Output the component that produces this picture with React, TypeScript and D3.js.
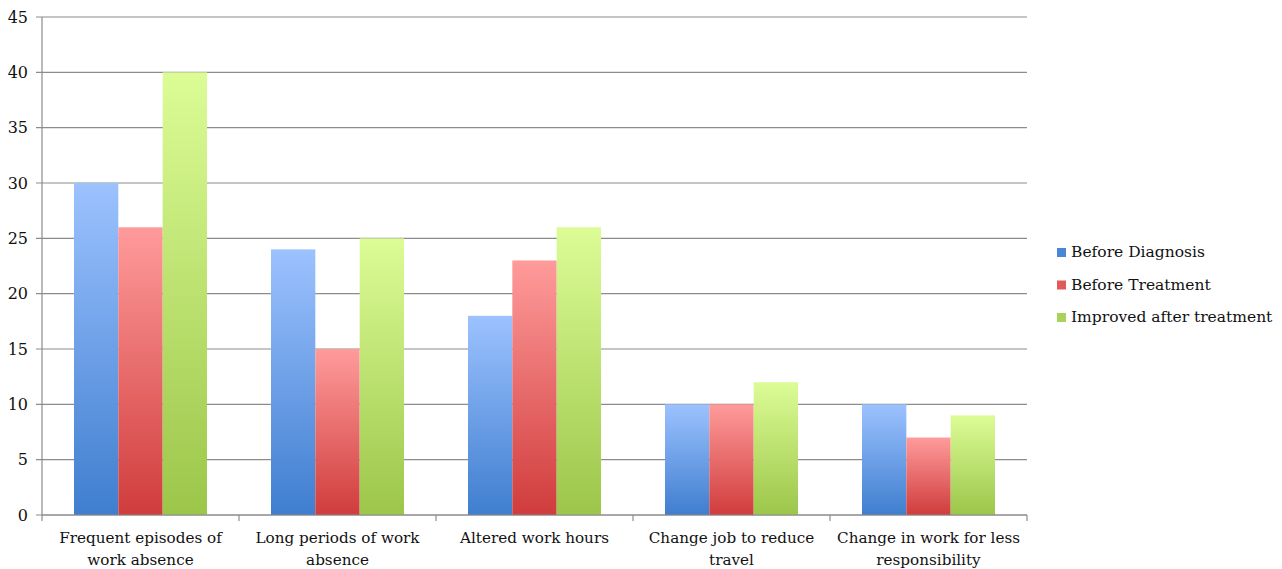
import React from 'react';
import * as d3 from 'd3';

const categories = [
    ['Frequent episodes of', 'work absence'],
    ['Long periods of work', 'absence'],
    ['Altered work hours'],
    ['Change job to reduce', 'travel'],
    ['Change in work for less', 'responsibility'],
];
const seriesNames = ['Before Diagnosis', 'Before Treatment', 'Improved after treatment'];
const beforeDiagnosis = [30, 24, 18, 10, 10];
const beforeTreatment = [26, 15, 23, 10, 7];
const improvedAfter = [40, 25, 26, 12, 9];
const yTicks = [0, 5, 10, 15, 20, 25, 30, 35, 40, 45];

const gradients = [
    { id: 'g-blue', top: '#9cc2ff', bottom: '#3f7ecf', swatch: '#4a86d6' },
    { id: 'g-red', top: '#ff9b9b', bottom: '#d03c3c', swatch: '#e05a5a' },
    { id: 'g-green', top: '#dcfc96', bottom: '#9cc64a', swatch: '#a8d25a' },
];

const FONT = '"DejaVu Serif", serif';

export default function App() {
    const width = 1282;
    const height = 569;
    const margin = { top: 17, right: 255, bottom: 54, left: 42 };
    const innerWidth = width - margin.left - margin.right;
    const innerHeight = height - margin.top - margin.bottom;

    const series = [beforeDiagnosis, beforeTreatment, improvedAfter];

    const x = d3.scaleBand<number>()
        .domain(categories.map((_, i) => i))
        .range([0, innerWidth])
        .paddingInner(0)
        .paddingOuter(0);

    // bars sit inside each category slot with a fixed inset either side
    const groupInset = 32;
    const xs = d3.scaleBand<number>()
        .domain(series.map((_, i) => i))
        .range([groupInset, x.bandwidth() - groupInset]);

    const y = d3.scaleLinear()
        .domain([0, 45])
        .range([innerHeight, 0]);

    const boundaries = d3.range(categories.length + 1).map(i => i * x.step());

    return (
        <svg width={width} height={height} style={{ position: 'absolute', left: 0, top: 0, background: '#fff' }}>
            <defs>
                {gradients.map(g => (
                    <linearGradient key={g.id} id={g.id} x1="0" y1="0" x2="0" y2="1">
                        <stop offset="0%" stopColor={g.top} />
                        <stop offset="100%" stopColor={g.bottom} />
                    </linearGradient>
                ))}
            </defs>
            <g transform={`translate(${margin.left},${margin.top})`}>
                {/* grid lines + y labels */}
                {yTicks.map(t => (
                    <g key={t} transform={`translate(0,${y(t)})`}>
                        <line x1={-6} x2={innerWidth} stroke="#8c8c8c" strokeWidth={1.2} />
                        <text x={-14} dy="0.35em" textAnchor="end" fontFamily={FONT} fontSize={16} fill="#111">{t}</text>
                    </g>
                ))}
                {/* bars */}
                {series.map((vals, si) => (
                    <g key={si}>
                        {vals.map((v, ci) => (
                            <rect
                                key={ci}
                                x={x(ci)! + xs(si)!}
                                y={y(v)}
                                width={xs.bandwidth()}
                                height={innerHeight - y(v)}
                                fill={`url(#${gradients[si].id})`}
                            />
                        ))}
                    </g>
                ))}
                {/* axes */}
                <line x1={0} x2={0} y1={0} y2={innerHeight} stroke="#8c8c8c" strokeWidth={1.2} />
                <line x1={0} x2={innerWidth} y1={innerHeight} y2={innerHeight} stroke="#8c8c8c" strokeWidth={1.2} />
                {boundaries.map((b, i) => (
                    <line key={i} x1={b} x2={b} y1={innerHeight} y2={innerHeight + 6} stroke="#8c8c8c" strokeWidth={1.2} />
                ))}
                {/* category labels */}
                {categories.map((lines, ci) => (
                    <text key={ci} textAnchor="middle" fontFamily={FONT} fontSize={15.2} fill="#111">
                        {lines.map((ln, li) => (
                            <tspan key={li} x={x(ci)! + x.bandwidth() / 2} y={innerHeight + 28 + li * 22}>{ln}</tspan>
                        ))}
                    </text>
                ))}
            </g>
            {/* legend */}
            <g transform="translate(1057,257)">
                {seriesNames.map((name, i) => (
                    <g key={name} transform={`translate(0,${i * 32.5})`}>
                        <rect x={0} y={-9} width={9} height={9} fill={gradients[i].swatch} />
                        <text x={14} y={0} fontFamily={FONT} fontSize={15.5} fill="#111">{name}</text>
                    </g>
                ))}
            </g>
        </svg>
    );
}
